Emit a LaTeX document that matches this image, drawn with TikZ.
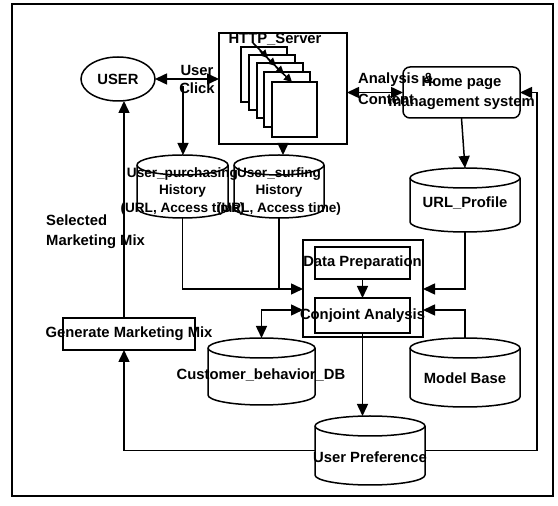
\documentclass[tikz,border=0pt]{standalone}
\usepackage{fontspec}
\setmainfont{Liberation Sans}
\usetikzlibrary{arrows.meta,shapes.geometric}
\newcommand{\dbcyl}[5]{%
 \node[minimum width=#4pt, minimum height=#5pt, inner sep=0pt, outer sep=0pt, anchor=north] (#1) at (#2,#3) {};
 \filldraw[ln, fill=white] ([yshift=-10pt]#1.north west) -- ([yshift=10pt]#1.south west) arc[start angle=180,end angle=360,x radius=#4/2,y radius=10] -- ([yshift=-10pt]#1.north east) arc[start angle=0,end angle=180,x radius=#4/2,y radius=10] -- cycle;
 \draw[ln] ([yshift=-10pt]#1.north west) arc[start angle=180,end angle=360,x radius=#4/2,y radius=10];
}
\tikzset{
 ln/.style={line width=1.5pt},
 arr/.style={ln,-{Triangle[length=12pt,width=11pt]}},
 darr/.style={ln,{Triangle[length=12pt,width=11pt]}-{Triangle[length=12pt,width=11pt]}},
 box/.style={draw,ln,fill=white,inner sep=0pt,outer sep=0pt},
 txt/.style={font=\fontsize{14.8}{17}\selectfont\bfseries, inner sep=0pt, align=center},
 small/.style={font=\fontsize{13.6}{17.5}\selectfont\bfseries},
 page/.style={ln,fill=white}
}
\begin{document}
\begin{tikzpicture}[x=1pt,y=1pt]
\useasboundingbox (0,0) rectangle (558,506);
% frame
\draw[line width=2pt] (12,10) rectangle (553,502);
% USER
\node[ellipse, box, minimum width=74pt, minimum height=44pt] (user) at (118,427) {};
% HTTP server
\node[box, minimum width=128pt, minimum height=111pt] (http) at (283,417.5) {};
\filldraw[page] (241,459) rectangle ++(46,-55);
\filldraw[page] (249,451) rectangle ++(46,-55);
\filldraw[page] (257,443) rectangle ++(46,-55);
\filldraw[page] (264,434) rectangle ++(46,-55);
\filldraw[page] (272,424) rectangle ++(45,-55);
\draw[ln,-{Triangle[length=8pt,width=8pt]}] (253,463) -- (268,448);
\draw[ln,-{Triangle[length=8pt,width=8pt]}] (260,455) -- (276,440);
\draw[ln,-{Triangle[length=8pt,width=8pt]}] (268,447) -- (284,432);
\draw[ln,-{Triangle[length=8pt,width=8pt]}] (276,439) -- (292,424);
% home page
\node[box, rounded corners=7pt, minimum width=117pt, minimum height=51pt] (hp) at (461.5,413.5) {};
% group
\node[box, minimum width=120pt, minimum height=97pt] (grp) at (363,217.5) {};
\node[box, minimum width=95pt, minimum height=32pt] (dp) at (362.5,243) {};
\node[box, minimum width=95pt, minimum height=35pt] (ca) at (362.5,190.5) {};
% generate marketing mix
\node[box, minimum width=132pt, minimum height=32pt] (gmm) at (129,172) {};
% cylinders
\dbcyl{pur}{182.5}{351}{91}{63}
\dbcyl{surf}{279}{351}{90}{63}
\dbcyl{url}{465}{338}{110}{64}
\dbcyl{cb}{261.5}{168}{107}{67}
\dbcyl{mb}{465}{168}{110}{69}
\dbcyl{up}{370}{90}{110}{69}
% helper coordinates
\coordinate (clk) at (183,420);
\coordinate (a1) at (0,217);
\coordinate (a2) at (0,196);
\coordinate (mx) at (124,0);
\coordinate (rt) at (537,0);
% connectors
\draw[darr] (user.east) -- (user.east -| http.west);
\draw[arr] (clk) -- (clk |- pur.north);
\draw[arr] (http.south) -- (http.south |- surf.north);
\draw[darr] (hp.west) -- (hp.west -| http.east);
\draw[arr] (hp.south) -- (url.north);
\draw[arr] (url.south) |- (grp.east |- a1);
\draw[arr] (mb.north) |- (grp.east |- a2);
\draw[arr] (pur.south) |- (grp.west |- a1);
\draw[ln] (surf.south) -- (surf.south |- a1);
\draw[darr] (cb.north) |- (grp.west |- a2);
\draw[arr] (dp.south) -- (ca.north);
\draw[arr] (ca.south) -- (ca.south |- up.north);
\draw[arr] (up.east) -| (rt |- hp.east) -- (hp.east);
\draw[arr] (up.west) -| (mx |- gmm.south);
\draw[arr] (mx |- gmm.north) -- (mx |- user.south);
% texts
\node[txt] (usert) at (user) {USER};
\node[txt] (clickt) at (197,427) {User\\[1pt]Click};
\node[txt] (httpt) at (275,467) {HTTP\_Server};
\node[txt, anchor=west, align=left] (ant) at (358,417) {Analysis \&\\[4pt]Content};
\node[txt, font=\fontsize{14.8}{20}\selectfont\bfseries] (hpt) at (hp) {Home page\\management system};
\node[txt, small] (purt) at (182.5,315) {User\_purchasing\\History\\(URL, Access time)};
\node[txt, small] (surft) at (279,315) {User\_surfing\\History\\(URL, Access time)};
\node[txt] (urlt) at (465,303) {URL\_Profile};
\node[txt] (dpt) at (dp) {Data Preparation};
\node[txt] (cat) at (ca) {Conjoint Analysis};
\node[txt] (cbt) at (261,131) {Customer\_behavior\_DB};
\node[txt] (mbt) at (465,128) {Model Base};
\node[txt] (upt) at (370,49) {User Preference};
\node[txt] (gmmt) at (gmm) {Generate Marketing Mix};
\node[txt, anchor=west, align=left] (selt) at (46,274) {Selected\\[3pt]Marketing Mix};
\end{tikzpicture}
\end{document}
